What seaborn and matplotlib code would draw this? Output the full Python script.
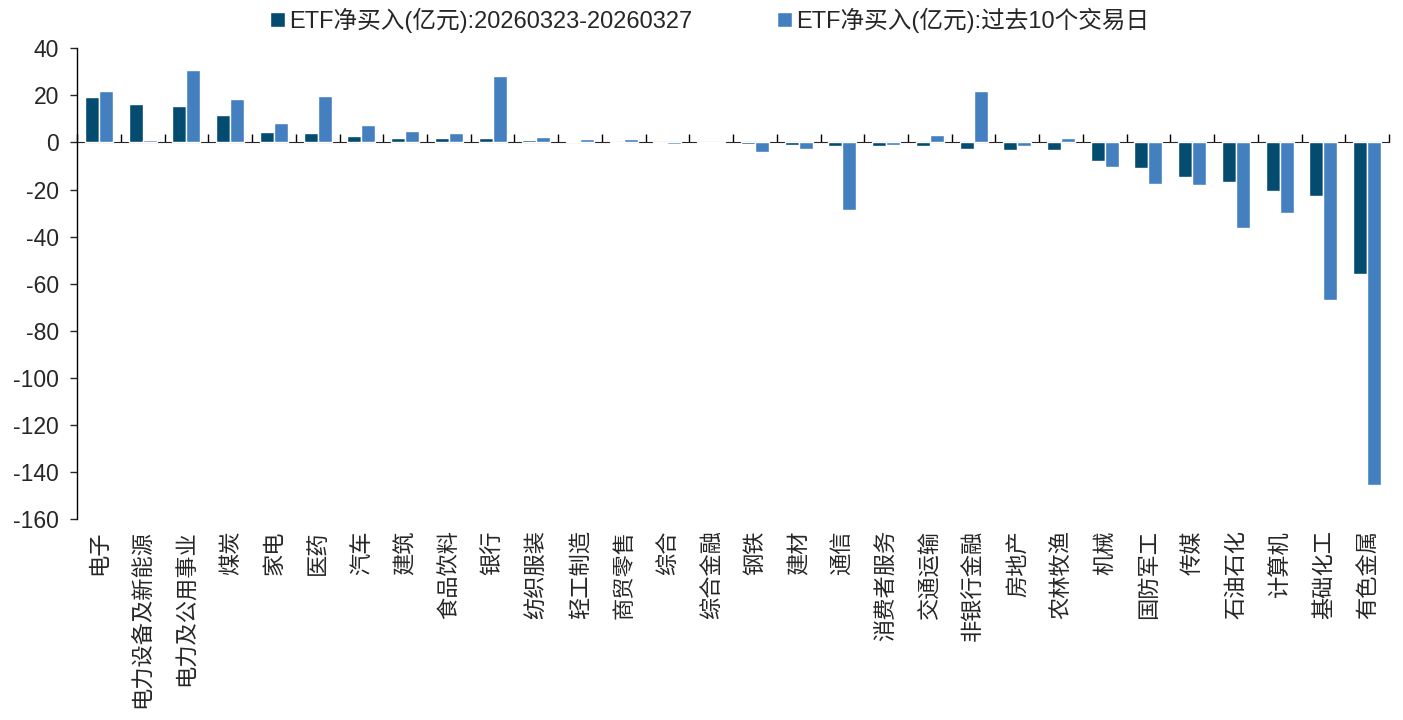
import pandas as pd
import numpy as np
import seaborn as sns
from matplotlib import pyplot as plt

sns.set_style('white')
plt.rcParams['font.family'] = ['Liberation Sans', 'Noto Sans CJK SC', 'DejaVu Sans']

industries = ['电子', '电力设备及新能源', '电力及公用事业', '煤炭', '家电', '医药', '汽车', '建筑',
              '食品饮料', '银行', '纺织服装', '轻工制造', '商贸零售', '综合', '综合金融', '钢铁',
              '建材', '通信', '消费者服务', '交通运输', '非银行金融', '房地产', '农林牧渔', '机械',
              '国防军工', '传媒', '石油石化', '计算机', '基础化工', '有色金属']
week_flow = [19.1, 16.2, 15.6, 11.8, 4.4, 3.8, 2.7, 1.9, 1.7, 1.7, 1.2, 0.7, -0.4, -0.3, -0.3,
             -0.7, -1.0, -1.4, -1.7, -1.7, -2.6, -3.3, -3.3, -7.7, -10.9, -14.7, -17.0, -20.5,
             -22.6, -56.0]
ten_day_flow = [22.0, 1.0, 30.8, 18.5, 8.4, 19.7, 7.5, 4.8, 4.0, 28.4, 2.4, 1.6, 1.5, -0.7, -0.3,
                -4.0, -2.9, -28.5, -1.1, 3.0, 22.0, -1.6, 1.8, -10.4, -17.7, -18.1, -36.5, -30.0,
                -67.1, -145.5]
series_names = ['ETF净买入(亿元):20260323-20260327', 'ETF净买入(亿元):过去10个交易日']
yticks = list(range(-160, 41, 20))

df = pd.DataFrame({
    'industry': industries * 2,
    'value': week_flow + ten_day_flow,
    'series': [series_names[0]] * len(industries) + [series_names[1]] * len(industries),
})

fig, ax = plt.subplots(figsize=(14.03, 7.2), dpi=100)
fig.subplots_adjust(left=0.055, right=0.99, top=0.933, bottom=0.279)

sns.barplot(data=df, x='industry', y='value', hue='series', order=industries,
            hue_order=series_names, palette=['#044B70', '#4480C0'], width=0.64, gap=0,
            saturation=1, ax=ax)

ax.set_ylim(-160, 40)
ax.set_xlim(-0.5, len(industries) - 0.5)
ax.set_yticks(yticks)
ax.set_yticklabels([str(t) for t in yticks], fontsize=16.5)
ax.set_xlabel('')
ax.set_ylabel('')
ax.tick_params(axis='y', direction='out', length=5, width=1, left=True, pad=8)
ax.tick_params(axis='x', length=0, pad=8)
ax.set_xticks(range(len(industries)))
ax.set_xticklabels(industries, rotation=90, fontsize=16, family=['Noto Sans CJK SC'])

for side in ['top', 'right', 'bottom']:
    ax.spines[side].set_visible(False)
ax.spines['left'].set_color('black')
ax.spines['left'].set_linewidth(1)

# zero line with category boundary ticks
zero_frac = (0 - (-160)) / (40 - (-160))
sec = ax.secondary_xaxis(zero_frac)
sec.set_xticks(np.arange(-0.5, len(industries), 1.0))
sec.set_xticklabels([])
sec.tick_params(direction='out', length=6, width=1, color='black')
sec.spines['bottom'].set_color('black')
sec.spines['bottom'].set_linewidth(1.2)

handles, labels = ax.get_legend_handles_labels()
ax.legend_.remove()
fig.legend(handles, labels, loc='center', bbox_to_anchor=(0.506, 0.972), ncol=2, frameon=False,
           fontsize=17, handlelength=0.6, handleheight=0.6, handletextpad=0.2, columnspacing=3.6)

plt.savefig('out.png', dpi=100)
